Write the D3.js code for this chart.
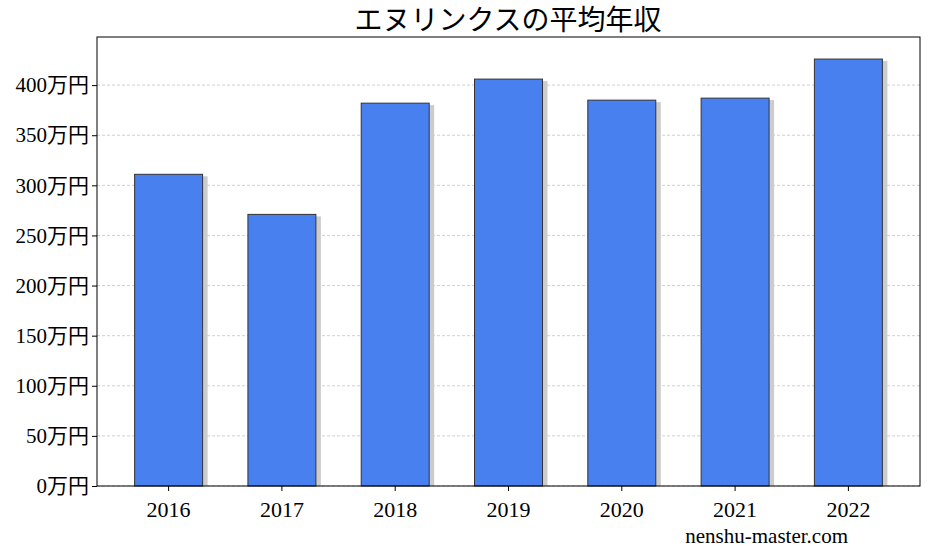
<!DOCTYPE html>
<html><head><meta charset="utf-8">
<script src="https://cdn.jsdelivr.net/npm/d3@7"></script>
<style>body{margin:0;background:#fff}text{font-family:"Liberation Serif","Noto Sans CJK JP",serif}</style>
</head><body>
<svg id="chart" width="927" height="555"></svg>
<script>
const years = ["2016","2017","2018","2019","2020","2021","2022"];
const salaries = [311, 271, 382, 406, 385, 387, 426];
const yTicks = [0,50,100,150,200,250,300,350,400];

const L = 97, R = 920, T = 37, B = 486;
const svg = d3.select("#chart");

const x = d3.scaleBand().domain(years).range([L, R]).paddingInner(0.4).paddingOuter(0.332);
const y = d3.scaleLinear().domain([0, 448]).range([B, T]);

// grid
svg.append("g").selectAll("line").data(yTicks).enter().append("line")
  .attr("x1", L).attr("x2", R).attr("y1", d => y(d)).attr("y2", d => y(d))
  .attr("stroke", "#bbb").attr("stroke-dasharray", "3,2").attr("stroke-width", 0.7);

// shadows
svg.append("g").selectAll("rect").data(salaries).enter().append("rect")
  .attr("x", (d,i) => x(years[i]) + 5).attr("y", d => y(d) + 2)
  .attr("width", x.bandwidth()).attr("height", d => B - y(d) - 2)
  .attr("fill", "#ccc");

// bars
svg.append("g").selectAll("rect").data(salaries).enter().append("rect")
  .attr("x", (d,i) => x(years[i])).attr("y", d => y(d))
  .attr("width", x.bandwidth()).attr("height", d => B - y(d))
  .attr("fill", "#4880f0").attr("stroke", "#333").attr("stroke-width", 1);

// frame
svg.append("rect").attr("x", L).attr("y", T).attr("width", R - L).attr("height", B - T)
  .attr("fill", "none").attr("stroke", "#000").attr("stroke-width", 1);

const yAxis = svg.append("g").attr("transform", `translate(${L},0)`)
  .call(d3.axisLeft(y).tickValues(yTicks).tickSize(5).tickFormat(d => d + "万円"));
yAxis.select(".domain").remove();
yAxis.selectAll("text").attr("font-size", 21).attr("fill", "#000");

const xAxis = svg.append("g").attr("transform", `translate(0,${B})`)
  .call(d3.axisBottom(x).tickSize(5));
xAxis.select(".domain").remove();
xAxis.selectAll("text").attr("font-size", 22).attr("fill", "#000").attr("dy", "1.05em");

svg.append("text").attr("x", 508).attr("y", 30).attr("text-anchor", "middle")
  .attr("font-size", 28).text("エヌリンクスの平均年収");
svg.append("text").attr("x", 848).attr("y", 543).attr("text-anchor", "end")
  .attr("font-size", 21).text("nenshu-master.com");
</script>
</body></html>
